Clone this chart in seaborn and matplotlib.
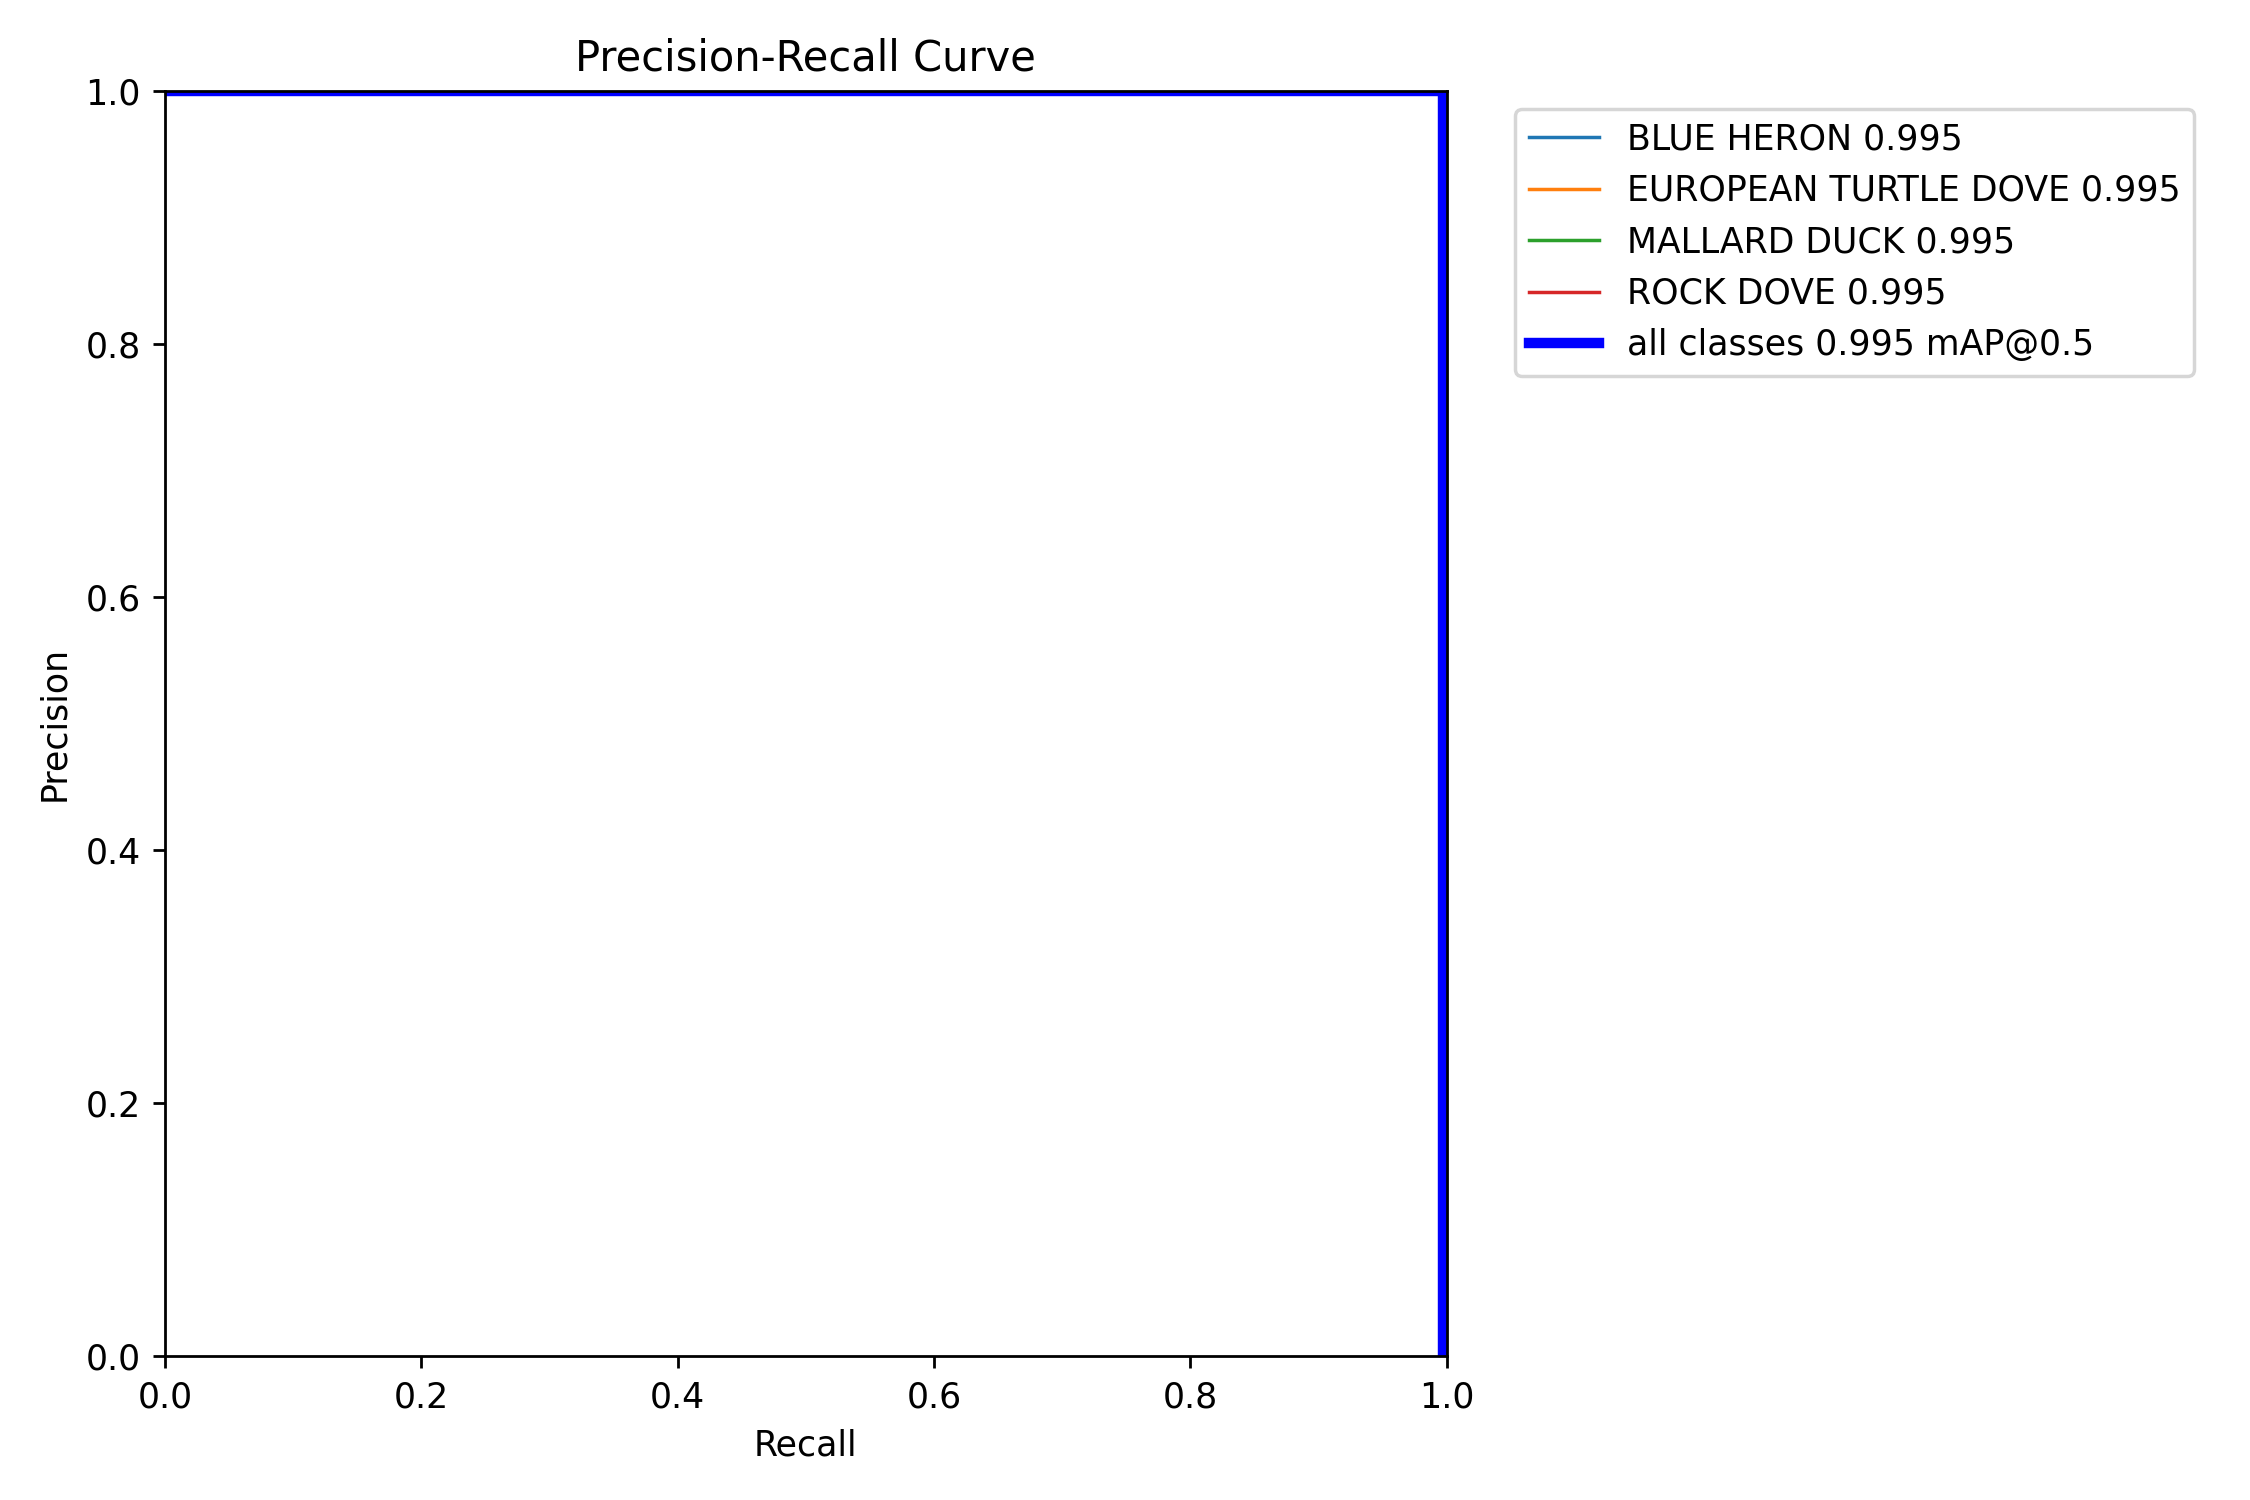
import matplotlib
matplotlib.use("Agg")
import matplotlib.pyplot as plt
import seaborn as sns
import pandas as pd

# PR curve data (precision stays 1 until recall ~0.997, then drops)
class_names = ["BLUE HERON", "EUROPEAN TURTLE DOVE", "MALLARD DUCK", "ROCK DOVE"]
class_ap = [0.995, 0.995, 0.995, 0.995]
recall = [0.0, 0.997, 0.997]
precision = [1.0, 1.0, 0.0]
map50 = 0.995

plt.rcParams['font.family'] = ['DejaVu Sans']

fig, ax = plt.subplots(1, 1, figsize=(9, 6), tight_layout=True)
colors = ["#1f77b4", "#ff7f0e", "#2ca02c", "#d62728"]
df = pd.DataFrame({"recall": recall, "precision": precision})
for name, ap, c in zip(class_names, class_ap, colors):
    sns.lineplot(data=df, x="recall", y="precision", ax=ax, color=c, linewidth=1,
                 label=f"{name} {ap:.3f}", sort=False, estimator=None)
sns.lineplot(data=df, x="recall", y="precision", ax=ax, color="blue", linewidth=3,
             label=f"all classes {map50:.3f} mAP@0.5", sort=False, estimator=None)

ax.set_xlabel("Recall")
ax.set_ylabel("Precision")
ax.set_xlim(0, 1)
ax.set_ylim(0, 1)
ax.legend(bbox_to_anchor=(1.04, 1), loc="upper left")
ax.set_title("Precision-Recall Curve")
fig.savefig("out.png", dpi=250)
